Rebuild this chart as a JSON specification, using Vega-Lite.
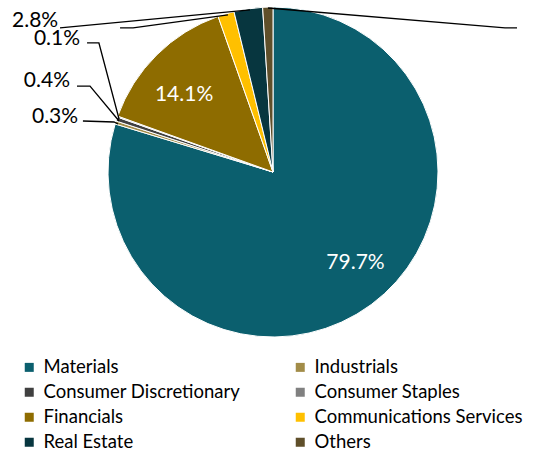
{
  "$schema": "https://vega.github.io/schema/vega-lite/v6.json",
  "width": 546,
  "height": 344,
  "autosize": {"type": "none"},
  "padding": {"left": 0, "top": 0, "right": 6, "bottom": 109},
  "config": {"view": {"stroke": null}, "font": "Lato"},
  "datasets": {
    "sectors": [
      {"sector": "Materials", "share": 79.7, "order": 1},
      {"sector": "Industrials", "share": 0.3, "order": 2},
      {"sector": "Consumer Discretionary", "share": 0.4, "order": 3},
      {"sector": "Consumer Staples", "share": 0.1, "order": 4},
      {"sector": "Financials", "share": 14.1, "order": 5},
      {"sector": "Communications Services", "share": 1.6, "order": 6},
      {"sector": "Real Estate", "share": 2.8, "order": 7},
      {"sector": "Others", "share": 1.0, "order": 8}
    ],
    "leaders": [
      {"id": "re", "seq": 1, "x": -1.291, "y": 0.873},
      {"id": "re", "seq": 2, "x": -0.139, "y": 0.982},
      {"id": "cs", "seq": 1, "x": -0.927, "y": 0.873},
      {"id": "cs", "seq": 2, "x": -0.848, "y": 0.873},
      {"id": "cs", "seq": 3, "x": -0.273, "y": 0.952},
      {"id": "ot", "seq": 1, "x": -0.030, "y": 0.994},
      {"id": "ot", "seq": 2, "x": 1.406, "y": 0.873},
      {"id": "ot", "seq": 3, "x": 1.479, "y": 0.873},
      {"id": "st", "seq": 1, "x": -1.127, "y": 0.782},
      {"id": "st", "seq": 2, "x": -1.055, "y": 0.782},
      {"id": "st", "seq": 3, "x": -0.933, "y": 0.321},
      {"id": "cd", "seq": 1, "x": -1.188, "y": 0.521},
      {"id": "cd", "seq": 2, "x": -1.109, "y": 0.521},
      {"id": "cd", "seq": 3, "x": -0.933, "y": 0.309},
      {"id": "in", "seq": 1, "x": -1.152, "y": 0.309},
      {"id": "in", "seq": 2, "x": -0.964, "y": 0.303},
      {"id": "in", "seq": 3, "x": -0.939, "y": 0.291}
    ],
    "outside": [
      {"text": "2.8%", "x": -1.442, "y": 0.925},
      {"text": "0.1%", "x": -1.309, "y": 0.818},
      {"text": "0.4%", "x": -1.370, "y": 0.564},
      {"text": "0.3%", "x": -1.321, "y": 0.345}
    ],
    "inside": [
      {"text": "79.7%", "x": 0.500, "y": -0.539},
      {"text": "14.1%", "x": -0.539, "y": 0.476}
    ]
  },
  "layer": [
    {
      "data": {"name": "sectors"},
      "mark": {"type": "arc", "outerRadius": 165, "stroke": "#ffffff", "strokeWidth": 1},
      "encoding": {
        "theta": {"field": "share", "type": "quantitative", "stack": true},
        "order": {"field": "order", "type": "quantitative"},
        "color": {
          "field": "sector",
          "type": "nominal",
          "scale": {
            "domain": ["Materials", "Consumer Discretionary", "Financials", "Real Estate", "Industrials", "Consumer Staples", "Communications Services", "Others"],
            "range": ["#0b5f6e", "#404040", "#8e6c00", "#07363f", "#a28c48", "#808080", "#ffc000", "#5f4f2a"]
          },
          "legend": {
            "orient": "none",
            "legendX": 20,
            "legendY": 358,
            "columns": 2,
            "columnPadding": 50,
            "rowPadding": 6,
            "symbolType": "square",
            "symbolSize": 81,
            "symbolStrokeWidth": 0,
            "labelFontSize": 18.5,
            "labelFont": "Lato",
            "labelColor": "#000000",
            "labelOffset": 5,
            "labelLimit": 400,
            "title": null,
            "padding": 0
          }
        }
      }
    },
    {
      "data": {"name": "leaders"},
      "mark": {"type": "line", "color": "#000000", "strokeWidth": 1.3},
      "encoding": {
        "x": {"field": "x", "type": "quantitative", "scale": {"domain": [-1.65455, 1.65455]}, "axis": null},
        "y": {"field": "y", "type": "quantitative", "scale": {"domain": [-1.04242, 1.04242]}, "axis": null},
        "detail": {"field": "id", "type": "nominal"},
        "order": {"field": "seq", "type": "quantitative"}
      }
    },
    {
      "data": {"name": "outside"},
      "mark": {"type": "text", "fontSize": 21, "font": "Lato", "fill": "#000000", "dy": 2},
      "encoding": {
        "x": {"field": "x", "type": "quantitative", "scale": {"domain": [-1.65455, 1.65455]}, "axis": null},
        "y": {"field": "y", "type": "quantitative", "scale": {"domain": [-1.04242, 1.04242]}, "axis": null},
        "text": {"field": "text", "type": "nominal"}
      }
    },
    {
      "data": {"name": "inside"},
      "mark": {"type": "text", "fontSize": 21, "font": "Lato", "fill": "#ffffff", "dy": 2},
      "encoding": {
        "x": {"field": "x", "type": "quantitative", "scale": {"domain": [-1.65455, 1.65455]}, "axis": null},
        "y": {"field": "y", "type": "quantitative", "scale": {"domain": [-1.04242, 1.04242]}, "axis": null},
        "text": {"field": "text", "type": "nominal"}
      }
    }
  ]
}
